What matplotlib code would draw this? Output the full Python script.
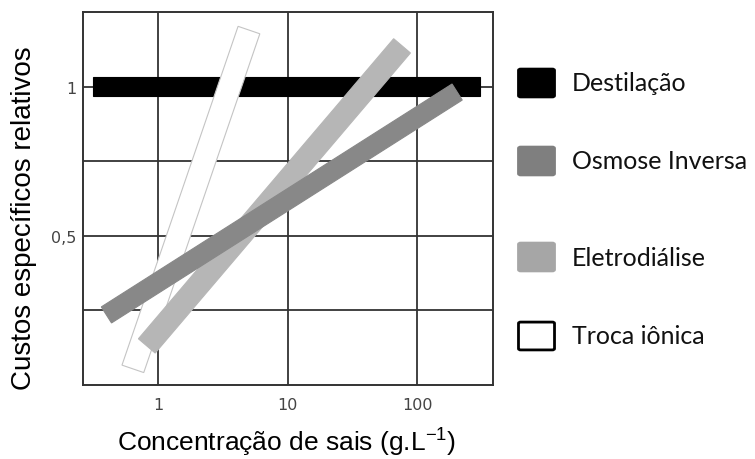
import numpy as np
import matplotlib
matplotlib.use("Agg")
import matplotlib.pyplot as plt
from matplotlib.patches import Polygon, FancyBboxPatch

# relative cost bands: start/end of each band (salt concentration g/L, relative cost)
processos = ["Destilação", "Osmose Inversa", "Eletrodiálise", "Troca iônica"]
conc_ini = [0.315, 0.40, 0.82, 0.64]
conc_fim = [306, 204, 76.6, 5.04]
custo_ini = [1.0, 0.235, 0.131, 0.054]
custo_fim = [1.0, 0.983, 1.138, 1.191]

xticks = [1, 10, 100]
xlabels = ["1", "10", "100"]
ygrid = [0.25, 0.5, 0.75, 1.0]
ylabels = ["", "0,5", "", "1"]

cores = ["#000000", "#888888", "#b6b6b6", "#ffffff"]
bordas = ["#000000", "#888888", "#b6b6b6", "#c4c4c4"]
larguras = [19, 19, 22, 23]   # band thickness in pixels
ordem = [0, 3, 2, 1]          # drawing order (last on top)


def faixa(ax, x0, y0, x1, y1, largura, cor, borda, z):
    # thick band between two data points, width fixed in display pixels
    p = ax.transData.transform([(x0, y0), (x1, y1)])
    d = p[1] - p[0]
    n = np.array([-d[1], d[0]]) / np.hypot(*d) * largura / 2
    cantos = np.array([p[0] + n, p[1] + n, p[1] - n, p[0] - n])
    pts = ax.transData.inverted().transform(cantos)
    ax.add_patch(Polygon(pts, closed=True, fc=cor, ec=borda, lw=0.8, zorder=z))


fig = plt.figure(figsize=(7.55, 4.6), dpi=100)
ax = fig.add_axes([0.110, 0.161, 0.543, 0.811])
ax.set_xscale("log")
ax.set_xlim(0.264, 386)
ax.set_ylim(0.0, 1.252)

ax.set_xticks(xticks)
ax.set_xticklabels(xlabels)
ax.set_xticks([], minor=True)
ax.set_yticks(ygrid)
ax.set_yticklabels(ylabels)
ax.tick_params(length=0, labelsize=11.5, colors="#444444")
ax.tick_params(axis="x", pad=9)
ax.tick_params(axis="y", pad=5)
for lab in ax.get_xticklabels() + ax.get_yticklabels():
    lab.set_family(["Liberation Sans Narrow", "DejaVu Sans"])
ax.grid(True, color="#333333", lw=1.3, zorder=1)
ax.set_axisbelow(True)
for s in ax.spines.values():
    s.set_color("#333333")
    s.set_linewidth(1.4)
    s.set_zorder(10)

for i in ordem:
    faixa(ax, conc_ini[i], custo_ini[i], conc_fim[i], custo_fim[i],
          larguras[i], cores[i], bordas[i], 3 + ordem.index(i))

ax.set_ylabel("Custos específicos relativos", fontsize=20,
              family="Liberation Sans")
ax.yaxis.set_label_coords(-0.113, 0.45)
ax.set_xlabel(r"Concentração de sais (g.L$^{\mathregular{-1}}$)", fontsize=19,
              family="Liberation Sans")
ax.xaxis.set_label_coords(0.497, -0.104)

# legend drawn by hand, rows are not evenly spaced
leg_y = [84, 162, 258, 337]
leg_fc = ["#000000", "#7f7f7f", "#a6a6a6", "#ffffff"]
leg_ec = ["#000000", "#7f7f7f", "#a6a6a6", "#000000"]
W, H = 755, 460
for nome, yc, fc, ec in zip(processos, leg_y, leg_fc, leg_ec):
    fig.add_artist(FancyBboxPatch(((518 + 2) / W, (H - yc - 13) / H), 33 / W, 26 / H,
                                  boxstyle="round,pad=0.002,rounding_size=0.003",
                                  fc=fc, ec=ec, lw=2, transform=fig.transFigure))
    fig.text(572 / W, (H - yc) / H, nome, fontsize=18, family="Lato",
             va="center", ha="left", color="#111111")

fig.savefig("out.png", dpi=100)
